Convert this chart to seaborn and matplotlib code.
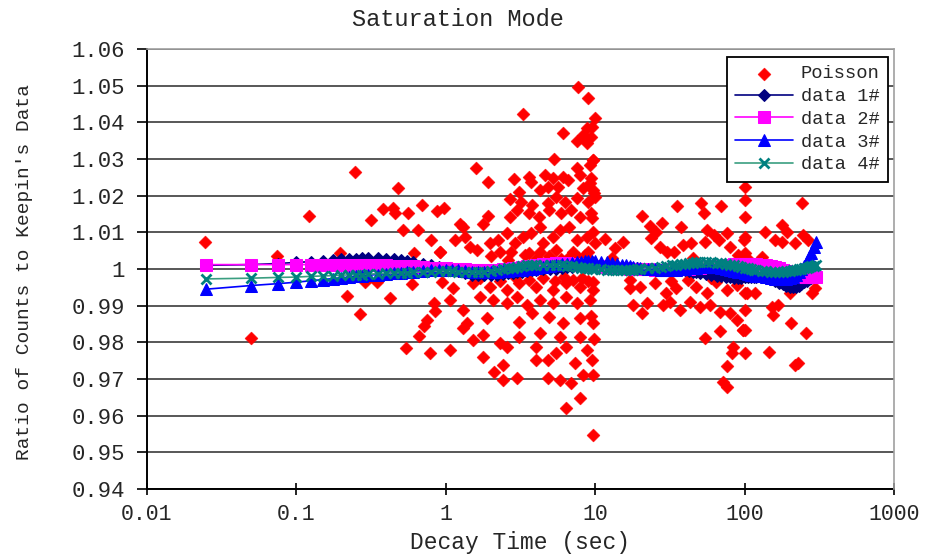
import matplotlib
matplotlib.use("Agg")
import matplotlib.pyplot as plt
from matplotlib.ticker import FixedLocator, FixedFormatter, NullLocator
import seaborn as sns
import pandas as pd

sns.set_style("white")
plt.rcParams['font.family'] = ['Liberation Mono', 'DejaVu Sans Mono']

# ---------------- data ----------------
title = "Saturation Mode"
x_label = "Decay Time (sec)"
y_label = "Ratio of Counts to Keepin's Data"

x_ticks = [0.01, 0.1, 1, 10, 100, 1000]
x_tick_labels = ["0.01", "0.1", "1", "10", "100", "1000"]
y_ticks = [0.94, 0.95, 0.96, 0.97, 0.98, 0.99, 1.00, 1.01, 1.02, 1.03, 1.04, 1.05, 1.06]
y_tick_labels = ["0.94", "0.95", "0.96", "0.97", "0.98", "0.99", "1",
                 "1.01", "1.02", "1.03", "1.04", "1.05", "1.06"]

series_names = ["Poisson", "data 1#", "data 2#", "data 3#", "data 4#"]

poisson_t = [
    # 0.01 - 1 s
    0.0246, 0.0497, 0.074, 0.122, 0.197, 0.248, 0.218, 0.268, 0.289, 0.345,
    0.318, 0.38, 0.445, 0.455, 0.48, 0.56, 0.52, 0.65, 0.69, 0.87,
    0.98, 0.79, 0.92, 0.61, 0.59, 0.42, 0.94, 0.83, 0.85, 0.75,
    0.71, 0.66, 0.54, 0.78,
    # 1 - 10 s, upper part
    7.7, 9.0, 3.3, 9.9, 6.1, 8.8, 8.3, 7.5, 8.8, 9.4,
    5.3, 9.7, 9.2, 1.59, 7.5, 1.93, 2.86, 3.6, 3.7, 4.6,
    5.2, 6.1, 6.6, 7.9, 9.2, 8.3, 9.7, 4.8, 5.6, 4.3,
    3.1, 2.7, 3.2, 3.8, 4.8, 5.5, 6.3, 7.5, 8.9, 10.0,
    1.93, 1.78, 1.25, 1.30, 2.7, 3.0, 3.6, 4.2, 4.9, 5.9,
    6.9, 7.9, 9.4,
    0.92, 1.15, 1.34, 1.45, 1.61, 1.98, 2.25, 2.55, 2.9, 3.3,
    3.7, 4.3, 4.5, 5.2, 5.8, 6.7, 7.5, 8.8, 10.0, 2.3,
    2.75, 3.6, 4.3, 5.5, 7.1, 8.9,
    # 1 - 10 s, near the curves
    2.0, 2.6, 3.4, 4.1, 4.9, 5.9, 6.8, 7.8, 8.6, 9.3,
    1.7, 2.3, 2.9, 3.6, 4.5, 5.4, 6.2, 7.1, 8.1, 9.0,
    # 1 - 10 s, lower part
    1.12, 1.53, 1.98, 2.55, 3.1, 4.0, 5.2, 6.4, 7.9, 9.7,
    1.07, 1.3, 1.69, 2.08, 2.55, 3.0, 3.5, 4.3, 5.2, 6.4,
    7.5, 9.2, 1.38, 1.88, 3.1, 3.8, 4.9, 6.1, 7.9, 9.7,
    1.30, 1.78, 2.3, 3.1, 4.3, 5.8, 7.9, 1.07, 1.53, 1.78,
    2.55, 4.0, 4.8, 5.5, 6.4, 8.8, 2.4, 2.1, 2.4, 3.0,
    4.8, 5.8, 6.9, 8.3, 9.7, 7.9, 6.4, 9.7, 7.3, 4.0,
    # column near 10 s
    9.5, 9.6, 9.4, 9.8, 9.5, 9.7, 9.6, 9.4, 9.8, 9.5,
    # 10 - 100 s
    35.3, 50.7, 53.3, 69.6, 20.7, 23.1, 27.9, 25.6, 37.3, 56.0,
    62.0, 67.0, 76.0, 54.0, 11.6, 13.5, 15.3, 23.7, 27.2, 30.1,
    38.7, 43.7, 33.9, 80.0, 91.0, 99.0, 88.0,
    17.0, 20.0, 25.0, 30.0, 35.0, 41.5, 47.5, 56.0, 64.5, 76.0,
    88.5, 103.0,
    18.0, 20.5, 22.1, 28.6, 31.7, 37.0, 43.2, 50.4, 58.8, 68.5,
    80.0, 88.5, 98.0, 54.3, 68.5, 84.0, 82.0, 75.9, 72.0, 75.9,
    13.0, 17.0, 45.0, 60.0, 32.0,
    # 100 - 300 s
    100.7, 100.7, 100.7, 100.7, 100.7, 100.7, 100.7, 100.7, 100.7,
    241, 177, 191, 160, 177, 217, 247, 267, 137, 130,
    103, 117, 281, 296, 201, 152, 168, 156, 205, 258,
    98, 146, 228, 217,
]

poisson_v = [
    # 0.01 - 1 s
    1.0074, 0.9813, 1.0035, 1.0145, 1.0044, 1.0264, 0.9927, 0.9876, 0.9965, 0.9965,
    1.0134, 1.0164, 1.0166, 1.0154, 1.0220, 1.0154, 1.0106, 1.0106, 1.0175, 1.0158,
    1.0166, 1.0079, 1.0047, 1.0043, 0.9958, 0.9920, 0.9965, 0.9906, 0.9885, 0.9861,
    0.9845, 0.9817, 0.9785, 0.9770,
    # 1 - 10 s, upper part
    1.0497, 1.0466, 1.0423, 1.0411, 1.0372, 1.0384, 1.0365, 1.0350, 1.0343, 1.0361,
    1.0300, 1.0297, 1.0284, 1.0276, 1.0275, 1.0236, 1.0245, 1.0252, 1.0236, 1.0256,
    1.0247, 1.0252, 1.0243, 1.0256, 1.0234, 1.0220, 1.0215, 1.0224, 1.0223, 1.0215,
    1.0211, 1.0190, 1.0184, 1.0175, 1.0179, 1.0197, 1.0184, 1.0193, 1.0184, 1.0197,
    1.0145, 1.0123, 1.0123, 1.0115, 1.0143, 1.0161, 1.0152, 1.0143, 1.0161, 1.0152,
    1.0161, 1.0143, 1.0152,
    1.0047, 1.0079, 1.0088, 1.0061, 1.0052, 1.0070, 1.0079, 1.0097, 1.0070, 1.0088,
    1.0097, 1.0115, 1.0070, 1.0088, 1.0106, 1.0115, 1.0079, 1.0088, 1.0070, 1.0047,
    1.0047, 1.0043, 1.0047, 1.0052, 1.0047, 1.0047,
    # 1 - 10 s, near the curves
    1.0035, 1.0025, 1.0038, 1.0030, 1.0035, 1.0028, 1.0036, 1.0030, 1.0038, 1.0025,
    0.9975, 0.9968, 0.9978, 0.9970, 0.9975, 0.9968, 0.9978, 0.9970, 0.9976, 0.9968,
    # 1 - 10 s, lower part
    0.9947, 0.9961, 0.9952, 0.9943, 0.9961, 0.9952, 0.9943, 0.9961, 0.9952, 0.9943,
    0.9915, 0.9888, 0.9925, 0.9915, 0.9906, 0.9925, 0.9902, 0.9915, 0.9906, 0.9925,
    0.9906, 0.9915, 0.9852, 0.9866, 0.9856, 0.9879, 0.9870, 0.9852, 0.9866, 0.9852,
    0.9838, 0.9820, 0.9797, 0.9815, 0.9825, 0.9815, 0.9815, 0.9779, 0.9806, 0.9761,
    0.9788, 0.9788, 0.9752, 0.9770, 0.9788, 0.9779, 0.9738, 0.9720, 0.9697, 0.9702,
    0.9702, 0.9697, 0.9688, 0.9711, 0.9711, 0.9647, 0.9620, 0.9547, 0.9743, 0.9752,
    # column near 10 s
    1.0387, 1.0297, 1.0248, 1.0206, 1.0139, 1.0102, 0.9964, 0.9871, 0.9810, 0.9752,
    # 10 - 100 s
    1.0173, 1.0179, 1.0152, 1.0172, 1.0145, 1.0117, 1.0125, 1.0102, 1.0114, 1.0106,
    1.0093, 1.0079, 1.0097, 1.0074, 1.0082, 1.0056, 1.0074, 1.0084, 1.0061, 1.0047,
    1.0065, 1.0070, 1.0047, 1.0061, 1.0038, 1.0079, 1.0006,
    0.9947, 0.9952, 0.9961, 0.9934, 0.9947, 0.9970, 0.9952, 0.9934, 0.9965, 0.9943,
    0.9956, 0.9934,
    0.9902, 0.9879, 0.9906, 0.9902, 0.9911, 0.9888, 0.9911, 0.9897, 0.9902, 0.9884,
    0.9879, 0.9861, 0.9834, 0.9811, 0.9832, 0.9788, 0.9770, 0.9735, 0.9693, 0.9679,
    1.0030, 0.9970, 1.0030, 0.9975, 0.9968,
    # 100 - 300 s
    1.0224, 1.0188, 1.0143, 1.0088, 1.0043, 0.9934, 0.9888, 0.9834, 0.9770,
    1.0181, 1.0120, 1.0102, 1.0079, 1.0074, 1.0070, 1.0093, 1.0079, 1.0102, 1.0034,
    1.0029, 0.9934, 0.9934, 0.9947, 0.9934, 0.9897, 0.9902, 0.9875, 0.9852, 0.9825,
    0.9834, 0.9773, 0.9744, 0.9738,
]

t_curve = [0.025, 0.05, 0.075, 0.1, 0.125, 0.15, 0.175, 0.2, 0.225, 0.25,
           0.275, 0.3, 0.35, 0.4, 0.45, 0.5, 0.55, 0.6, 0.7, 0.8,
           0.9, 1.0, 1.1, 1.2, 1.35, 1.5, 1.65, 1.8, 2.0, 2.2,
           2.4, 2.6, 2.8, 3.0, 3.25, 3.5, 3.75, 4, 4.5, 5,
           5.5, 6, 6.5, 7, 7.5, 8, 8.5, 9, 9.5, 10,
           11, 12, 13, 14, 15, 16, 17, 18, 19, 20,
           22.5, 25, 27.5, 30, 32.5, 35, 37.5, 40, 42.5, 45,
           47.5, 50, 55, 60, 65, 70, 75, 80, 85, 90,
           95, 100, 105, 110, 115, 120, 130, 140, 150, 160,
           170, 180, 190, 200, 210, 220, 230, 240, 250, 260,
           270, 280, 290, 300]

data1 = [1.0010, 1.0012, 1.0015, 1.0018, 1.0020, 1.0022, 1.0024, 1.0026, 1.0027, 1.0028,
         1.0029, 1.0029, 1.0029, 1.0028, 1.0027, 1.0025, 1.0023, 1.0020, 1.0015, 1.0010,
         1.0006, 1.0003, 0.9999, 0.9995, 0.9990, 0.9985, 0.9983, 0.9983, 0.9984, 0.9985,
         0.9987, 0.9988, 0.9990, 0.9992, 0.9993, 0.9995, 0.9996, 0.9998, 0.9999, 1.0000,
         1.0001, 1.0003, 1.0005, 1.0006, 1.0007, 1.0008, 1.0009, 1.0010, 1.0010, 1.0010,
         1.0010, 1.0009, 1.0008, 1.0007, 1.0006, 1.0005, 1.0004, 1.0003, 1.0002, 1.0001,
         0.9999, 0.9998, 0.9997, 0.9997, 0.9997, 0.9997, 0.9996, 0.9996, 0.9995, 0.9993,
         0.9991, 0.9990, 0.9987, 0.9985, 0.9982, 0.9980, 0.9978, 0.9977, 0.9976, 0.9976,
         0.9976, 0.9977, 0.9977, 0.9978, 0.9978, 0.9978, 0.9977, 0.9975, 0.9972, 0.9968,
         0.9963, 0.9958, 0.9955, 0.9952, 0.9951, 0.9952, 0.9955, 0.9960, 0.9964, 0.9968,
         0.9972, 0.9975, 0.9978, 0.9980]

data2 = [1.0012, 1.0012, 1.0012, 1.0012, 1.0012, 1.0012, 1.0012, 1.0011, 1.0011, 1.0011,
         1.0011, 1.0011, 1.0010, 1.0010, 1.0009, 1.0009, 1.0008, 1.0007, 1.0006, 1.0004,
         1.0003, 1.0002, 1.0001, 1.0000, 0.9999, 0.9998, 0.9997, 0.9997, 0.9997, 0.9998,
         0.9999, 1.0000, 1.0002, 1.0003, 1.0005, 1.0007, 1.0008, 1.0010, 1.0013, 1.0015,
         1.0016, 1.0016, 1.0016, 1.0015, 1.0014, 1.0012, 1.0011, 1.0010, 1.0009, 1.0008,
         1.0007, 1.0005, 1.0004, 1.0003, 1.0003, 1.0002, 1.0001, 1.0001, 1.0000, 1.0000,
         0.9999, 0.9998, 0.9998, 0.9998, 0.9999, 0.9999, 1.0000, 1.0000, 1.0001, 1.0002,
         1.0003, 1.0003, 1.0005, 1.0006, 1.0008, 1.0009, 1.0011, 1.0012, 1.0013, 1.0014,
         1.0015, 1.0015, 1.0015, 1.0015, 1.0015, 1.0014, 1.0012, 1.0010, 1.0008, 1.0005,
         1.0002, 0.9998, 0.9994, 0.9990, 0.9986, 0.9983, 0.9981, 0.9979, 0.9978, 0.9978,
         0.9977, 0.9977, 0.9977, 0.9977]

data3 = [0.9945, 0.9955, 0.9960, 0.9964, 0.9968, 0.9971, 0.9974, 0.9976, 0.9978, 0.9980,
         0.9982, 0.9983, 0.9985, 0.9987, 0.9988, 0.9990, 0.9991, 0.9993, 0.9995, 0.9997,
         0.9998, 0.9998, 0.9997, 0.9996, 0.9995, 0.9993, 0.9992, 0.9992, 0.9992, 0.9993,
         0.9994, 0.9995, 0.9996, 0.9997, 0.9998, 0.9999, 1.0000, 1.0002, 1.0005, 1.0008,
         1.0011, 1.0013, 1.0015, 1.0017, 1.0019, 1.0020, 1.0021, 1.0021, 1.0021, 1.0021,
         1.0020, 1.0018, 1.0016, 1.0014, 1.0012, 1.0010, 1.0008, 1.0006, 1.0004, 1.0003,
         1.0001, 0.9999, 0.9998, 0.9998, 0.9998, 0.9998, 0.9999, 1.0000, 1.0002, 1.0003,
         1.0004, 1.0005, 1.0006, 1.0006, 1.0005, 1.0003, 1.0000, 0.9998, 0.9995, 0.9993,
         0.9991, 0.9989, 0.9987, 0.9985, 0.9984, 0.9982, 0.9980, 0.9977, 0.9975, 0.9973,
         0.9972, 0.9972, 0.9973, 0.9975, 0.9979, 0.9985, 0.9992, 1.0000, 1.0009, 1.0020,
         1.0032, 1.0045, 1.0060, 1.0075]

data4 = [0.9973, 0.9975, 0.9977, 0.9978, 0.9980, 0.9981, 0.9982, 0.9983, 0.9984, 0.9985,
         0.9985, 0.9986, 0.9987, 0.9988, 0.9989, 0.9990, 0.9990, 0.9991, 0.9992, 0.9993,
         0.9994, 0.9994, 0.9994, 0.9993, 0.9992, 0.9992, 0.9992, 0.9993, 0.9995, 0.9997,
         1.0000, 1.0002, 1.0004, 1.0006, 1.0008, 1.0010, 1.0011, 1.0012, 1.0012, 1.0012,
         1.0011, 1.0010, 1.0008, 1.0007, 1.0005, 1.0004, 1.0003, 1.0002, 1.0001, 1.0000,
         0.9999, 0.9998, 0.9997, 0.9997, 0.9997, 0.9997, 0.9997, 0.9998, 0.9999, 1.0000,
         1.0002, 1.0004, 1.0006, 1.0008, 1.0010, 1.0012, 1.0013, 1.0015, 1.0016, 1.0017,
         1.0018, 1.0018, 1.0018, 1.0018, 1.0017, 1.0016, 1.0014, 1.0012, 1.0010, 1.0008,
         1.0006, 1.0004, 1.0002, 1.0000, 0.9998, 0.9997, 0.9995, 0.9994, 0.9993, 0.9993,
         0.9993, 0.9993, 0.9994, 0.9995, 0.9996, 0.9998, 0.9999, 1.0001, 1.0002, 1.0004,
         1.0005, 1.0007, 1.0008, 1.0010]

# ---------------- figure ----------------
fig = plt.figure(figsize=(9.27, 5.54), dpi=100)
ax = fig.add_axes([147 / 927, 65 / 554, 747 / 927, 440 / 554])

poisson_df = pd.DataFrame({"t": poisson_t, "v": poisson_v})
sns.scatterplot(data=poisson_df, x="t", y="v", ax=ax, marker="D", s=44,
                color="#FF0000", edgecolor="#FF0000", linewidth=0.3,
                label=series_names[0], zorder=3)

styles = [
    dict(color="#000080", marker="D", markersize=6.5, mfc="#000080", mec="#000080"),
    dict(color="#FF00FF", marker="s", markersize=8, mfc="#FF00FF", mec="#FF00FF"),
    dict(color="#0000FF", marker="^", markersize=9, mfc="#0000FF", mec="#0000FF"),
    dict(color="#3A9E80", marker="x", markersize=7, mfc="#008080", mec="#008080",
         markeredgewidth=2.0),
]
for name, ys, st in zip(series_names[1:], [data1, data2, data3, data4], styles):
    df = pd.DataFrame({"t": t_curve, "v": ys})
    sns.lineplot(data=df, x="t", y="v", ax=ax, estimator=None, sort=False,
                 linewidth=1.2, label=name, zorder=4, **st)

ax.set_xscale("log")
ax.set_xlim(0.01, 1000)
ax.set_ylim(0.94, 1.06)
ax.xaxis.set_major_locator(FixedLocator(x_ticks))
ax.xaxis.set_major_formatter(FixedFormatter(x_tick_labels))
ax.xaxis.set_minor_locator(NullLocator())
ax.yaxis.set_major_locator(FixedLocator(y_ticks))
ax.yaxis.set_major_formatter(FixedFormatter(y_tick_labels))
ax.yaxis.set_minor_locator(NullLocator())

ax.grid(axis="y", color="#2a2a2a", linewidth=1.1)
ax.grid(axis="x", visible=False)
ax.set_axisbelow(True)

ax.tick_params(axis="x", direction="inout", length=9, width=1.2, color="black",
               pad=6, labelsize=15.5)
ax.tick_params(axis="y", direction="out", length=7, width=1.2, color="black",
               pad=9, labelsize=16)
ax.tick_params(axis="both", left=True, bottom=True)

for side in ["left", "bottom"]:
    ax.spines[side].set_color("black")
    ax.spines[side].set_linewidth(1.4)
for side in ["top", "right"]:
    ax.spines[side].set_visible(True)
    ax.spines[side].set_color("#a0a0a0")
    ax.spines[side].set_linewidth(1.2)
    ax.spines[side].set_zorder(5)

ax.set_xlabel(x_label, fontsize=16.5)
ax.xaxis.set_label_coords(0.5, (489 - 543) / 440)
ax.xaxis.label.set_va("center")
ax.set_ylabel(y_label, fontsize=14)
ax.yaxis.set_label_coords((25 - 147) / 747, (489 - 272) / 440)
ax.yaxis.label.set_va("center")

fig.text(458 / 927, 1 - 20 / 554, title, ha="center", va="center", fontsize=17)

leg = ax.legend(loc="upper right", bbox_to_anchor=(0.992, 0.982), borderaxespad=0,
                frameon=True, fancybox=False, framealpha=1, edgecolor="black",
                prop={"family": "Liberation Mono", "size": 13.5},
                handlelength=3.1, labelspacing=0.3, borderpad=0.45,
                handletextpad=0.4)
leg.get_frame().set_linewidth(1.3)
leg.set_zorder(10)

fig.savefig("out.png", dpi=100)
